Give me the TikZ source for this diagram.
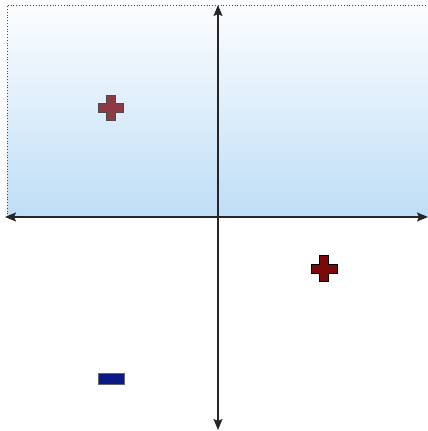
\documentclass[tikz,border=0pt]{standalone}
\usetikzlibrary{arrows.meta}
\definecolor{topc}{HTML}{FCFDFE}
\definecolor{midc}{HTML}{E6F1FB}
\definecolor{botc}{HTML}{BEDEF7}
\definecolor{plusa}{HTML}{8E3A44}
\definecolor{plusb}{HTML}{7A0A0A}
\definecolor{minusc}{HTML}{0C1A86}
\tikzset{
  axis/.style={line width=1.5pt, draw=black!85, {Stealth[length=11pt,width=9pt,inset=2pt]}-{Stealth[length=11pt,width=9pt,inset=2pt]}},
  plusshape/.style={line width=1pt},
}
\newcommand{\plusat}[5]{% x y halfsize halfarm style
  \path[#5] (#1-#4,#2+#3) -- (#1+#4,#2+#3) -- (#1+#4,#2+#4) -- (#1+#3,#2+#4) -- (#1+#3,#2-#4) -- (#1+#4,#2-#4) -- (#1+#4,#2-#3) -- (#1-#4,#2-#3) -- (#1-#4,#2-#4) -- (#1-#3,#2-#4) -- (#1-#3,#2+#4) -- (#1-#4,#2+#4) -- cycle;}
\begin{document}
\begin{tikzpicture}[x=1pt,y=1pt]
\useasboundingbox (0,0) rectangle (428,431);
% shaded quadrant region (y = 431 - ypx)
\shade[top color=topc, middle color=midc, bottom color=botc] (7,426) rectangle (428,214);
\draw[black!70, dotted, line width=0.8pt] (7,214) -- (7,426) -- (428,426);
\coordinate (L) at (5,214);
\coordinate (R) at (428,214);
\coordinate (T) at (218,426);
\coordinate (B) at (218,1);
\draw[axis] (L) -- (R);
\draw[axis] (B) -- (T);
\plusat{111}{323}{12.5}{4.5}{fill=plusa, draw=black!70, plusshape}
\plusat{324}{162}{13}{4.5}{fill=plusb, draw=black, plusshape}
\node[draw=black!60, fill=minusc, line width=1pt, minimum width=26pt, minimum height=11pt, inner sep=0pt] (minus) at (111,52) {};
\end{tikzpicture}
\end{document}
